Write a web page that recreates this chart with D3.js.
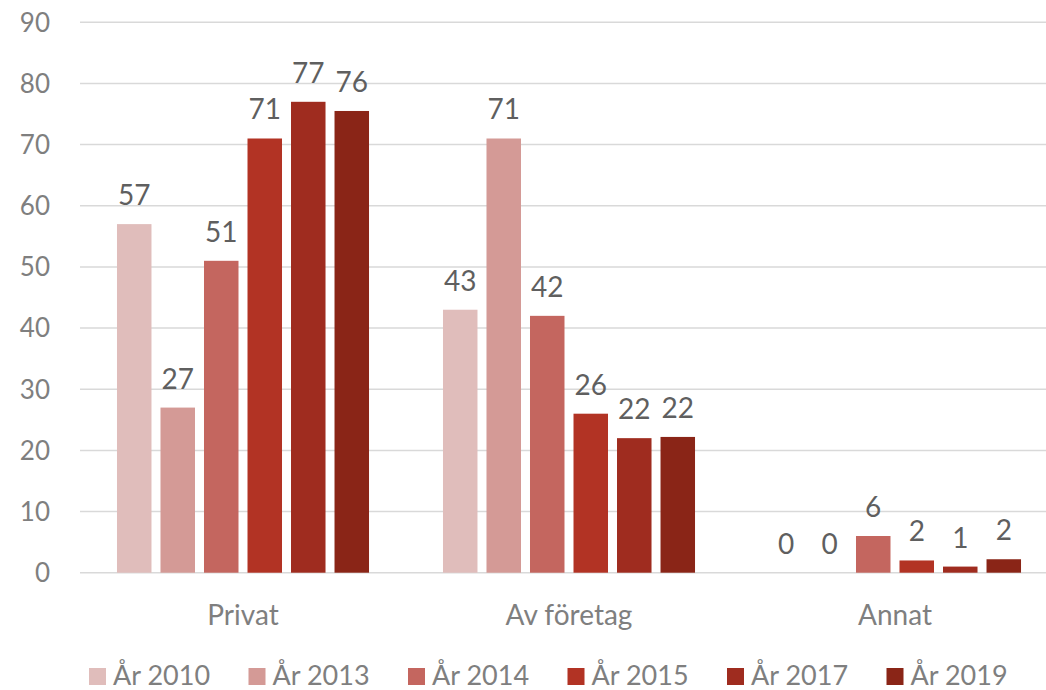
<!DOCTYPE html>
<html>
<head>
<meta charset="utf-8">
<script src="https://cdn.jsdelivr.net/npm/d3@7"></script>
<style>
  body { margin: 0; background: #fff; }
  svg { font-family: Lato, "Open Sans", sans-serif; }
</style>
</head>
<body>
<svg id="svg" width="1046" height="690"></svg>
<script>
(function() {

    const categories = ["Privat", "Av företag", "Annat"]
    const years = ["År 2010", "År 2013", "År 2014", "År 2015", "År 2017", "År 2019"]
    // values per year, in category order
    const values2010 = [57, 43, 0]
    const values2013 = [27, 71, 0]
    const values2014 = [51, 42, 6]
    const values2015 = [71, 26, 2]
    const values2017 = [77, 22, 1]
    const values2019 = [75.5, 22.2, 2.2]
    const yTicks = [0, 10, 20, 30, 40, 50, 60, 70, 80, 90]

    const colors = ["#e0bdbb", "#d49a96", "#c4665f", "#b23324", "#9f2c1f", "#8a2517"]

    const series = [values2010, values2013, values2014, values2015, values2017, values2019]

    const svg = d3.select('#svg')
    const marginLeft = 80, plotRight = 1058, marginTop = 22.3, zeroY = 572.7

    const x0 = d3.scaleBand()
        .domain(categories)
        .range([marginLeft, plotRight])

    const x1 = d3.scaleBand()
        .domain(years)
        .range([0, x0.bandwidth()])
        .paddingInner(0.207)
        .paddingOuter(0.85)

    const y = d3.scaleLinear()
        .domain([0, 90])
        .range([zeroY, marginTop])

    // gridlines
    svg.selectAll('.grid')
        .data(yTicks)
        .enter()
        .append('line')
            .attr('x1', marginLeft)
            .attr('x2', plotRight)
            .attr('y1', d => y(d))
            .attr('y2', d => y(d))
            .style('stroke', '#d9d9d9')
            .style('stroke-width', 1.5)

    // y tick labels
    svg.selectAll('.ytick')
        .data(yTicks)
        .enter()
        .append('text')
            .attr('x', 50)
            .attr('y', d => y(d))
            .attr('dy', '0.36em')
            .attr('text-anchor', 'end')
            .style('font-size', '26px')
            .style('fill', '#7f7f7f')
            .text(d => d)

    // bars
    const rows = []
    series.forEach((vals, si) => {
        vals.forEach((v, ci) => {
            rows.push({ year: years[si], cat: categories[ci], value: v, color: colors[si] })
        })
    })

    svg.selectAll('.bar')
        .data(rows)
        .enter()
        .append('rect')
            .attr('x', d => x0(d.cat) + x1(d.year))
            .attr('y', d => y(d.value))
            .attr('width', x1.bandwidth())
            .attr('height', d => zeroY - y(d.value))
            .attr('fill', d => d.color)

    // data labels
    svg.selectAll('.label')
        .data(rows)
        .enter()
        .append('text')
            .attr('x', d => x0(d.cat) + x1(d.year) + x1.bandwidth() / 2)
            .attr('y', d => y(d.value) - 19)
            .attr('text-anchor', 'middle')
            .style('font-size', '28px')
            .style('fill', '#5f5f5f')
            .text(d => Math.round(d.value))

    // category labels
    svg.selectAll('.cat')
        .data(categories)
        .enter()
        .append('text')
            .attr('x', d => x0(d) + x0.bandwidth() / 2)
            .attr('y', 625)
            .attr('text-anchor', 'middle')
            .style('font-size', '28px')
            .style('fill', '#7f7f7f')
            .text(d => d)

    // legend
    const legend = svg.selectAll('.legend')
        .data(years)
        .enter()
        .append('g')
            .attr('transform', (d, i) => 'translate(' + (89 + i * 159.5) + ',0)')

    legend.append('rect')
        .attr('x', 0)
        .attr('y', 668)
        .attr('width', 17)
        .attr('height', 17)
        .attr('fill', (d, i) => colors[i])

    legend.append('text')
        .attr('x', 24)
        .attr('y', 685)
        .style('font-size', '27px')
        .style('fill', '#7f7f7f')
        .text(d => d)

})();
</script>
</body>
</html>
